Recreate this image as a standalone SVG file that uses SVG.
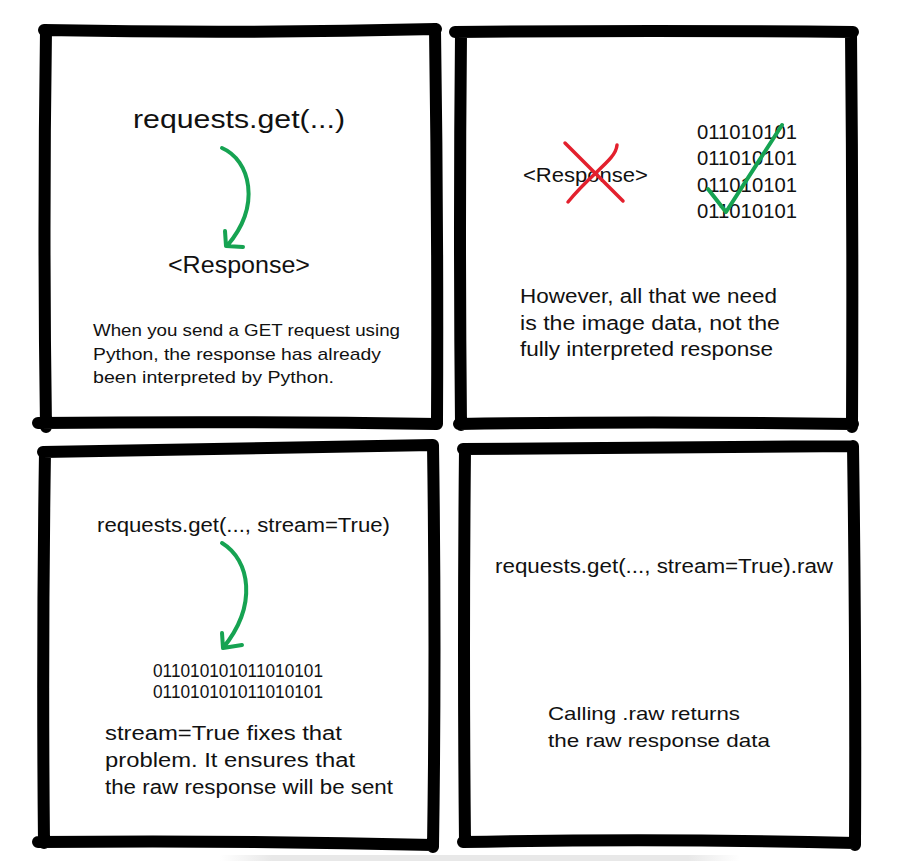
<svg xmlns="http://www.w3.org/2000/svg" width="909" height="861" viewBox="0 0 909 861">
<style>
.frame{fill:none;stroke:#000;stroke-width:12;stroke-linecap:round;stroke-linejoin:round}
.t{font-family:"Liberation Sans","DejaVu Sans",sans-serif;fill:#111}
.green{fill:none;stroke:#16a352;stroke-width:4;stroke-linecap:round;stroke-linejoin:round}
.red{fill:none;stroke:#e3202d;stroke-width:3.5;stroke-linecap:round}
</style>
<defs>
<linearGradient id="sh" x1="0" y1="0" x2="1" y2="0">
<stop offset="0" stop-color="#e8e8e8" stop-opacity="0"/>
<stop offset="0.1" stop-color="#e8e8e8"/>
<stop offset="0.9" stop-color="#e8e8e8"/>
<stop offset="1" stop-color="#e8e8e8" stop-opacity="0"/>
</linearGradient>
</defs>
<rect width="909" height="861" fill="#fff"/>
<rect x="220" y="855" width="520" height="6" fill="url(#sh)"/>

<g id="panel1">
<path class="frame" d="M44,30 Q240,34 436,29 M46,30 Q43,230 46,427 M435,29 Q438,230 437,424 M38,423 Q240,421 437,424"/>
<text class="t" x="133" y="128" font-size="25" textLength="212" lengthAdjust="spacingAndGlyphs">requests.get(...)</text>
<text class="t" x="168" y="273" font-size="23" textLength="142" lengthAdjust="spacingAndGlyphs">&lt;Response&gt;</text>
<text class="t" font-size="17">
<tspan x="93" y="336" textLength="307" lengthAdjust="spacingAndGlyphs">When you send a GET request using</tspan>
<tspan x="93" y="360" textLength="288" lengthAdjust="spacingAndGlyphs">Python, the response has already</tspan>
<tspan x="93" y="383" textLength="241" lengthAdjust="spacingAndGlyphs">been interpreted by Python.</tspan>
</text>
</g>

<g id="panel2">
<path class="frame" d="M455,32 Q650,30 853,32 M461,34 Q459,230 461,425 M851,34 Q853,230 852,427 M459,424 Q650,421 853,424"/>
<text class="t" x="523" y="182" font-size="20" textLength="125" lengthAdjust="spacingAndGlyphs">&lt;Response&gt;</text>
<path class="red" d="M565,143 L623,201 M617,145 C616,160 592,172 568,202"/>
<text class="t" font-size="20">
<tspan x="697" y="139" textLength="100" lengthAdjust="spacingAndGlyphs">011010101</tspan>
<tspan x="697" y="165" textLength="100" lengthAdjust="spacingAndGlyphs">011010101</tspan>
<tspan x="697" y="192" textLength="100" lengthAdjust="spacingAndGlyphs">011010101</tspan>
<tspan x="697" y="218" textLength="100" lengthAdjust="spacingAndGlyphs">011010101</tspan>
</text>
<path class="green" d="M708,189 L726,212 L782,125" stroke-width="4.5"/>
<text class="t" font-size="20">
<tspan x="520" y="303" textLength="257" lengthAdjust="spacingAndGlyphs">However, all that we need</tspan>
<tspan x="520" y="330" textLength="260" lengthAdjust="spacingAndGlyphs">is the image data, not the</tspan>
<tspan x="520" y="356" textLength="253" lengthAdjust="spacingAndGlyphs">fully interpreted response</tspan>
</text>
</g>

<g id="panel3">
<path class="frame" d="M43,452 Q240,448 433,445 M45,452 Q42,650 44,843 M433,445 Q436,650 433,847 M38,842 Q240,840 433,845"/>
<text class="t" x="97" y="532" font-size="20" textLength="293" lengthAdjust="spacingAndGlyphs">requests.get(..., stream=True)</text>
<text class="t" font-size="19">
<tspan x="153" y="677" textLength="170" lengthAdjust="spacingAndGlyphs">011010101011010101</tspan>
<tspan x="153" y="698" textLength="170" lengthAdjust="spacingAndGlyphs">011010101011010101</tspan>
</text>
<text class="t" font-size="20">
<tspan x="105" y="740" textLength="237" lengthAdjust="spacingAndGlyphs">stream=True fixes that</tspan>
<tspan x="105" y="767" textLength="250" lengthAdjust="spacingAndGlyphs">problem. It ensures that</tspan>
<tspan x="105" y="794" textLength="288" lengthAdjust="spacingAndGlyphs">the raw response will be sent</tspan>
</text>
</g>

<g id="panel4">
<path class="frame" d="M463,449 Q660,448 853,446 M465,449 Q463,650 465,842 M853,446 Q856,650 855,845 M463,842 Q660,838 855,843"/>
<text class="t" x="495" y="573" font-size="20" textLength="338" lengthAdjust="spacingAndGlyphs">requests.get(..., stream=True).raw</text>
<text class="t" font-size="19">
<tspan x="548" y="720" textLength="192" lengthAdjust="spacingAndGlyphs">Calling .raw returns</tspan>
<tspan x="548" y="747" textLength="222" lengthAdjust="spacingAndGlyphs">the raw response data</tspan>
</text>
</g>

<g id="connectors">
<path class="green" d="M222,148 C250,160 262,205 227,246 M225,231 L226,246 L243,247"/>
<path class="green" d="M222,543 C250,560 258,605 223,648 M222,633 L223,648 L242,645"/>
</g>
</svg>
